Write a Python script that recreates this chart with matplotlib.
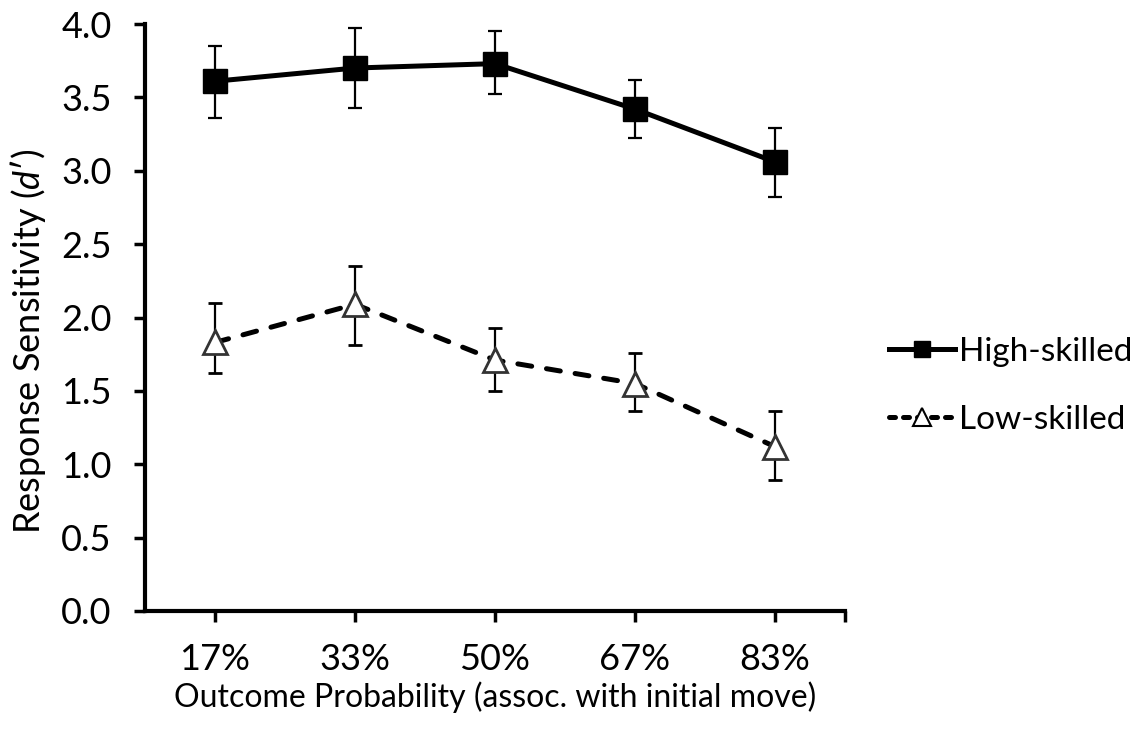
import numpy as np
import matplotlib.pyplot as plt
from matplotlib.lines import Line2D

plt.rcParams['font.family'] = ['Lato', 'DejaVu Sans']
plt.rcParams['mathtext.fontset'] = 'custom'
plt.rcParams['mathtext.it'] = 'Lato:italic'
plt.rcParams['mathtext.rm'] = 'Lato'

# Data
categories = ['17%', '33%', '50%', '67%', '83%']
high_mean = [3.61, 3.70, 3.73, 3.42, 3.06]
high_low = [3.36, 3.43, 3.52, 3.22, 2.82]
high_high = [3.85, 3.97, 3.95, 3.62, 3.29]
low_mean = [1.83, 2.09, 1.71, 1.55, 1.12]
low_low = [1.62, 1.81, 1.50, 1.36, 0.89]
low_high = [2.10, 2.35, 1.93, 1.76, 1.36]

x = np.arange(len(categories))
high_mean = np.array(high_mean)
low_mean = np.array(low_mean)
high_err = [high_mean - np.array(high_low), np.array(high_high) - high_mean]
low_err = [low_mean - np.array(low_low), np.array(low_high) - low_mean]

fig = plt.figure(figsize=(11.48, 7.37), dpi=100)
ax = fig.add_axes([145 / 1148, 1 - 611 / 737, 700 / 1148, 587 / 737])

dash = (0, (2.8, 3.0))
ax.errorbar(x, high_mean, yerr=high_err, color='black', lw=3.6,
            marker='s', ms=17, mfc='black', mec='black',
            ecolor='black', elinewidth=1.6, capsize=5, capthick=1.6)
ax.errorbar(x, low_mean, yerr=low_err, color='black', lw=3.6, ls=dash,
            dash_capstyle='round', marker='^', ms=17, mfc='white',
            mec='#333333', mew=2, ecolor='black', elinewidth=1.6,
            capsize=5, capthick=1.6)

ax.set_xlim(-0.5, 4.5)
ax.set_ylim(0, 4.0)
ax.set_yticks(np.arange(0, 4.01, 0.5))
ax.set_yticklabels([f'{v:.1f}' for v in np.arange(0, 4.01, 0.5)])
ax.set_xticks(x)
ax.set_xticklabels(categories)
ax.set_xticks([4.5], minor=True)

for s in ['top', 'right']:
    ax.spines[s].set_visible(False)
for s in ['left', 'bottom']:
    ax.spines[s].set_linewidth(3)
ax.tick_params(axis='both', which='both', direction='out', length=8, width=2.5,
               labelsize=26)
ax.tick_params(axis='y', pad=16)
ax.tick_params(axis='x', pad=15)

ax.set_xlabel('Outcome Probability (assoc. with initial move)', fontsize=23,
              labelpad=4)
ax.set_ylabel("Response Sensitivity ($\\mathit{d}$\u2032)", fontsize=26)
ax.yaxis.set_label_coords(-0.138, 0.46)

handles = [
    Line2D([], [], color='black', lw=3.6, marker='s', ms=12, mfc='black'),
    Line2D([], [], color='black', lw=3.6, ls=(0, (1.2, 1.6)),
           dash_capstyle='round', marker='^', ms=13, mfc='white',
           mec='black', mew=1.5),
]
fig.legend(handles, ['High-skilled', 'Low-skilled'], loc='center left',
           bbox_to_anchor=(872 / 1148, 1 - 386 / 737), frameon=False,
           fontsize=24, handlelength=2.0, handletextpad=0.1, labelspacing=1.15,
           borderpad=0)

fig.savefig('out.png', dpi=100)
